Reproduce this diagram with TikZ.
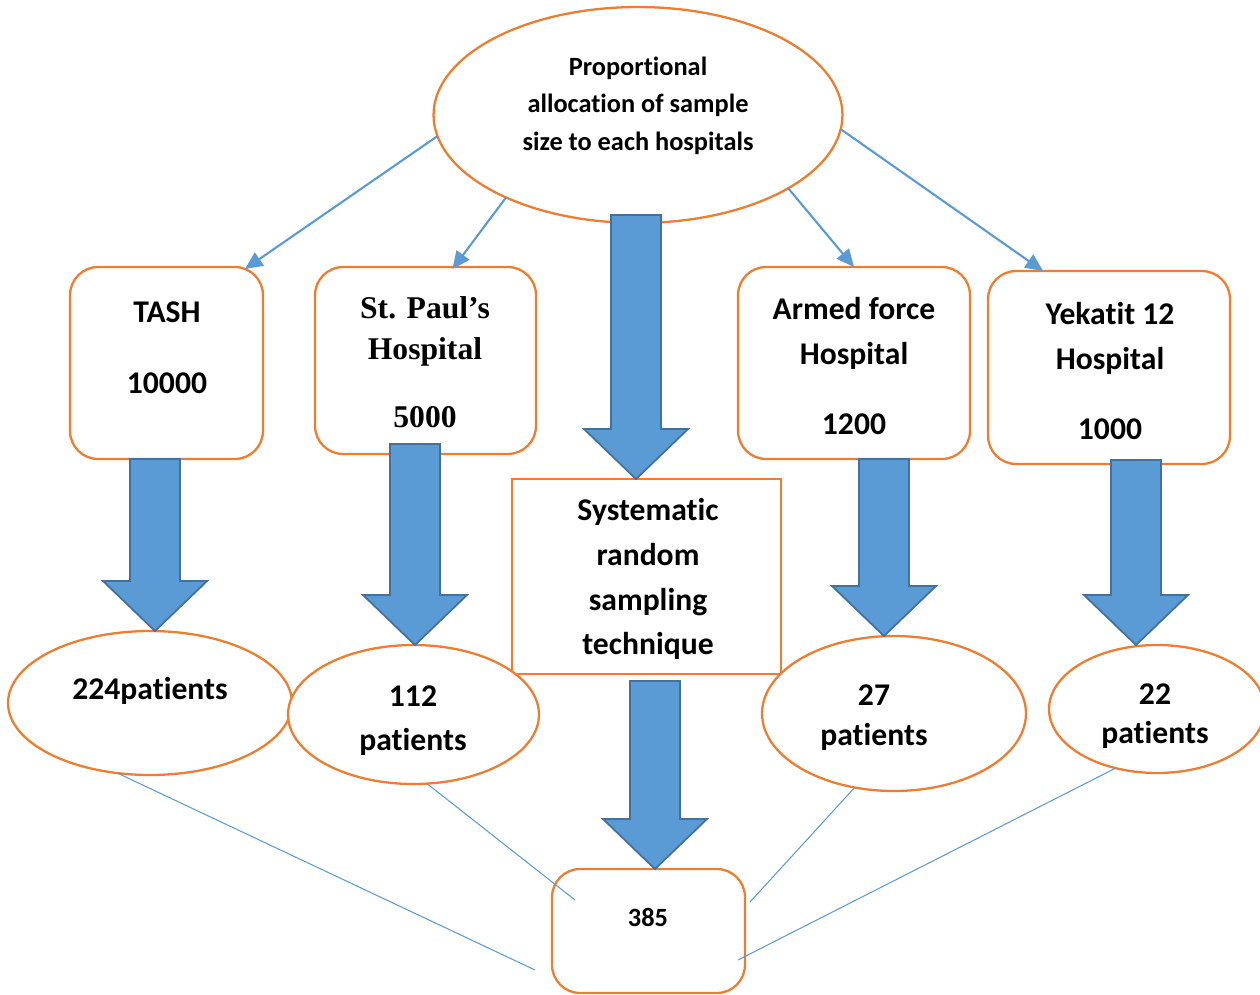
\documentclass[tikz,border=0pt]{standalone}
\usepackage{fontspec}
\setmainfont{Carlito}[RawFeature={-liga;-clig;-calt;-dlig}]
\newfontfamily\serifbold{Liberation Serif}
\usetikzlibrary{%
    arrows.meta,
    calc,
    shapes.geometric
}
\definecolor{boxorange}{HTML}{ED7D31}
\definecolor{linkblue}{HTML}{5B9BD5}
\definecolor{edgeblue}{HTML}{41719C}
\tikzset{
    hospbox/.style={draw=boxorange, line width=1.3pt, fill=white, rounded corners=16pt, inner sep=0pt, outer sep=0pt},
    methodbox/.style={draw=boxorange, line width=1.3pt, fill=white, inner sep=0pt, outer sep=0pt},
    oval/.style={ellipse, draw=boxorange, line width=1.3pt, fill=white, inner sep=0pt, outer sep=0pt},
    txt/.style={align=center, inner sep=0pt, font=\fontsize{18}{25.5}\selectfont\bfseries},
    smalltxt/.style={align=center, inner sep=0pt, font=\fontsize{15}{21.3}\selectfont\bfseries},
    link/.style={draw=linkblue, line width=1.2pt, -{Triangle[length=10pt,width=9pt]}},
    sumline/.style={draw=linkblue, line width=0.6pt},
    fatarrow/.style={fill=linkblue, draw=edgeblue, line width=1pt, line join=miter}
}

\begin{document}
\begin{tikzpicture}[x=0.02cm, y=-0.02cm]
    \useasboundingbox (0,0) rectangle (1260,994);

    % shapes
    \node[oval, minimum width=8.18cm, minimum height=4.32cm] (prop) at (638,115) {};
    \node[hospbox, minimum width=3.86cm, minimum height=3.84cm] (tash) at (166.5,363) {};
    \node[hospbox, minimum width=4.42cm, minimum height=3.74cm] (stpaul) at (425.5,360.5) {};
    \node[hospbox, minimum width=4.64cm, minimum height=3.84cm] (armed) at (854,363) {};
    \node[hospbox, minimum width=4.84cm, minimum height=3.86cm] (yekatit) at (1109,367.5) {};
    \node[methodbox, minimum width=5.38cm, minimum height=3.9cm] (syst) at (646.5,576.5) {};
    \node[oval, minimum width=5.68cm, minimum height=2.88cm] (p224) at (150,703) {};
    \node[oval, minimum width=5.02cm, minimum height=2.78cm] (p112) at (413.5,714.5) {};
    \node[oval, minimum width=5.28cm, minimum height=3.1cm] (p27) at (894,713.5) {};
    \node[oval, minimum width=4.32cm, minimum height=2.56cm] (p22) at (1157,709) {};
    \node[hospbox, minimum width=3.86cm, minimum height=2.48cm] (total) at (648.5,931) {};

    % texts
    \node[smalltxt] (propT) at (638,105.5) {Proportional\\allocation of sample\\size to each hospitals};
    \node[txt] (tashT) at (167,348) {TASH\\[15pt]10000};
    \node[txt, font=\fontsize{18}{23.8}\selectfont\serifbold\bfseries] (stpaulT) at (425,362) {St. Paul’s\\Hospital\\[14.7pt]5000};
    \node[txt] (armedT) at (854,366) {Armed force\\Hospital\\[14.5pt]1200};
    \node[txt] (yekatitT) at (1110,371) {Yekatit 12\\Hospital\\[14.5pt]1000};
    \node[txt] (systT) at (648,579) {Systematic\\random\\sampling\\technique};
    \node[txt] (p224T) at (150,691) {224patients};
    \node[txt, font=\fontsize{18}{25}\selectfont\bfseries] (p112T) at (413,721) {112\\patients};
    \node[txt, font=\fontsize{18}{22.7}\selectfont\bfseries] (p27T) at (874,718) {27\\patients};
    \node[txt, font=\fontsize{18}{22}\selectfont\bfseries] (p22T) at (1155,716) {22\\patients};
    \node[smalltxt] (totalT) at (648,917) {385};

    % thin arrows to the hospitals
    \coordinate (tash-in) at ($(tash.north east)+(-18,2)$);
    \coordinate (stpaul-in) at ($(stpaul.north)+(27,2)$);
    \coordinate (yekatit-in) at ($(yekatit.north west)+(55,0)$);
    \foreach \Source/\Target in {prop.186/tash-in, prop.212/stpaul-in, prop.334/armed.north, prop.356/yekatit-in}
        \draw[link] (\Source) -- (\Target);

    % block arrows
    \foreach \Source/\Target/\X/\Dy in {tash/p224/155/0, stpaul/p112/415/-10, prop/syst/636/-8, armed/p27/884/0, yekatit/p22/1136/-4, syst/total/655/7} {
        \coordinate (a-top) at ($(\X,0 |- \Source.south)+(0,\Dy)$);
        \coordinate (a-tip) at (\X,0 |- \Target.north);
        \draw[fatarrow] ($(a-top)+(-25,0)$) -- ($(a-top)+(25,0)$) -- ($(a-tip)+(25,-50)$) -- ($(a-tip)+(52,-50)$)
            -- (a-tip) -- ($(a-tip)+(-52,-50)$) -- ($(a-tip)+(-25,-50)$) -- cycle;
    }

    % lines to the total
    \coordinate (in-224) at ($(total.south west)+(-17,-23)$);
    \coordinate (in-112) at ($(total.north west)+(23,31)$);
    \coordinate (in-27) at ($(total.north east)+(5,33)$);
    \coordinate (in-22) at ($(total.south east)+(-7,-33)$);
    \foreach \Source/\Target in {p224.245/in-224, p112.281/in-112, p27.242/in-27, p22.235/in-22}
        \draw[sumline] (\Source) -- (\Target);
\end{tikzpicture}
\end{document}
